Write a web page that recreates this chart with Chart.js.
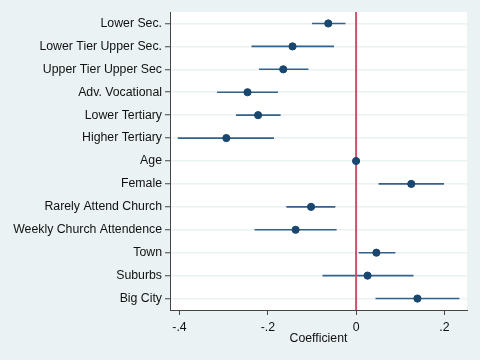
<!DOCTYPE html>
<html>
<head>
<meta charset="utf-8">
<script src="https://cdn.jsdelivr.net/npm/chart.js@4.4.1/dist/chart.umd.min.js"></script>
<style>
  html, body { margin: 0; padding: 0; background: #EAF2F3; }
  #wrap { width: 480px; height: 360px; }
</style>
</head>
<body>
<div id="wrap"><canvas id="coefChart" width="480" height="360"></canvas></div>
<script>
// Row labels, top to bottom
const labels = [
    "Lower Sec.", "Lower Tier Upper Sec.", "Upper Tier Upper Sec", "Adv. Vocational",
    "Lower Tertiary", "Higher Tertiary", "Age", "Female", "Rarely Attend Church",
    "Weekly Church Attendence", "Town", "Suburbs", "Big City"
];
// Point estimates and confidence interval ends
const coef   = [-0.063, -0.144, -0.165, -0.246, -0.222, -0.294, 0.000, 0.125, -0.102, -0.137, 0.046, 0.026, 0.139];
const ciLow  = [-0.100, -0.237, -0.220, -0.315, -0.272, -0.404, -0.002, 0.051, -0.158, -0.230, 0.006, -0.076, 0.044];
const ciHigh = [-0.024, -0.050, -0.108, -0.177, -0.171, -0.186, 0.002, 0.199, -0.047, -0.044, 0.089, 0.130, 0.234];
const xTicks = [-0.4, -0.2, 0, 0.2];
const xTickLabels = ["-.4", "-.2", "0", ".2"];

const navy = "#1A476F";
const font = { family: "'Liberation Sans', Arial, sans-serif", size: 12.3 };

// white plot region on the light blue graph region
const plotBg = {
    id: "plotBg",
    beforeDraw(chart) {
        const { ctx, chartArea: a } = chart;
        ctx.save();
        ctx.fillStyle = "#EAF2F3";
        ctx.fillRect(0, 0, chart.width, chart.height);
        ctx.fillStyle = "#FFFFFF";
        ctx.fillRect(a.left, a.top, a.right - a.left, a.bottom - a.top);
        ctx.restore();
    }
};

// one small line per confidence interval
let ciSets = labels.map((l, i) => ({
    type: "line",
    data: [{ x: ciLow[i], y: i }, { x: ciHigh[i], y: i }],
    borderColor: "#33628C",
    borderWidth: 1.6,
    pointRadius: 0,
    order: 2
}));

let datasets = [
    {
        type: "scatter",
        data: coef.map((c, i) => ({ x: c, y: i })),
        backgroundColor: navy,
        borderColor: navy,
        pointRadius: 3.6,
        order: 0
    },
    {
        type: "line",
        data: [{ x: 0, y: -0.5 }, { x: 0, y: labels.length - 0.5 }],
        borderColor: "#D1506C",
        borderWidth: 2,
        pointRadius: 0,
        order: 1
    }
].concat(ciSets);

new Chart(document.getElementById("coefChart"), {
    type: "scatter",
    data: { datasets: datasets },
    plugins: [plotBg],
    options: {
        responsive: false,
        animation: false,
        layout: { padding: { left: 0, top: 12, right: 13, bottom: 0 } },
        plugins: { legend: { display: false }, tooltip: { enabled: false } },
        scales: {
            x: {
                type: "linear",
                min: -0.4216,
                max: 0.2513,
                afterBuildTicks: s => { s.ticks = xTicks.map(v => ({ value: v })); },
                afterFit: s => { s.height = 50; },
                grid: { display: true, drawOnChartArea: false, tickLength: 5, tickColor: "#444", tickWidth: 1 },
                border: { display: true, color: "#444", width: 1 },
                ticks: {
                    font: font, color: "#111", padding: 5, maxRotation: 0,
                    callback: (v, i) => xTickLabels[i]
                },
                title: { display: true, text: "Coefficient", font: font, color: "#111", padding: { top: 0, bottom: 14 } }
            },
            y: {
                type: "linear",
                min: -0.5,
                max: labels.length - 0.5,
                reverse: true,
                afterBuildTicks: s => { s.ticks = labels.map((l, i) => ({ value: i })); },
                afterFit: s => { s.width = 170; },
                grid: { color: "#EAF2F3", lineWidth: 1.5, tickLength: 5, tickColor: "#444", tickWidth: 1 },
                border: { display: true, color: "#444", width: 1 },
                ticks: {
                    font: font, color: "#111", padding: 3, autoSkip: false,
                    callback: (v, i) => labels[i]
                }
            }
        }
    }
});
</script>
</body>
</html>
